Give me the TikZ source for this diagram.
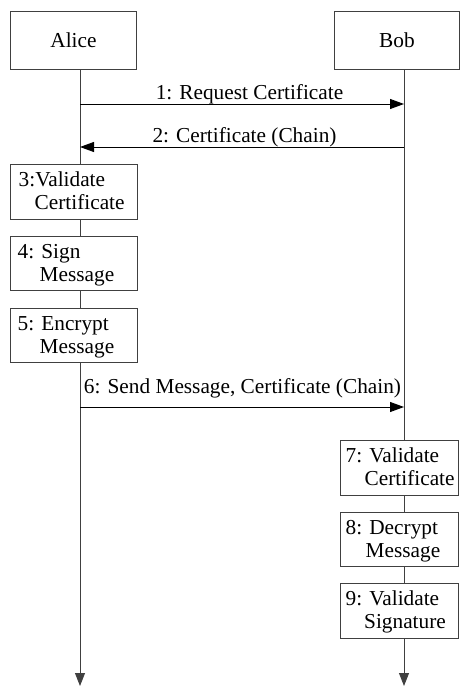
\documentclass[tikz,border=0pt]{standalone}
\usepackage{fontspec}
\setmainfont{Liberation Serif}
\usetikzlibrary{arrows.meta,calc}
\begin{document}
\begin{tikzpicture}[x=1pt,y=-1pt,
  font=\fontsize{21.3}{24}\selectfont,
  actor/.style={draw=black!75, line width=0.9pt, fill=white, rectangle,
    inner sep=0pt, anchor=north west, minimum height=58pt},
  act/.style={draw=black!75, line width=0.9pt, fill=white, rectangle,
    inner sep=0pt, anchor=north west},
  life/.style={draw=black!75, line width=0.9pt,
    -{Triangle[length=13pt,width=10pt]}},
  msg/.style={draw=black, line width=0.9pt,
    -{Triangle[length=14pt,width=10pt]}},
  txt/.style={inner sep=0pt, anchor=base west},
  lbl/.style={inner sep=0pt, anchor=base}]
\useasboundingbox (0,0) rectangle (460,687);

% participants
\node[actor, minimum width=126pt] (alice) at (10,11) {Alice};
\node[actor, minimum width=125pt] (bob) at (334,11) {Bob};

% lifelines
\coordinate (aend) at (80,686);
\coordinate (bend) at (404,686);
\draw[life] (alice.south -| aend) -- (aend);
\draw[life] (bob.south -| bend) -- (bend);

% messages
\coordinate (a1) at (80,104);  \coordinate (b1) at (404,104);
\coordinate (a2) at (80,147);  \coordinate (b2) at (404,147);
\coordinate (a6) at (80,407);  \coordinate (b6) at (404,407);
\draw[msg] (a1) -- (b1);
\node[lbl] (m1) at (249.5,100) {1: Request Certificate};
\draw[msg] (b2) -- (a2);
\node[lbl] (m2) at (244.5,142.5) {2: Certificate (Chain)};
\draw[msg] (a6) -- (b6);
\node[lbl] (m6) at (242.5,393) {6: Send Message, Certificate (Chain)};

% Alice's activities
\node[act, minimum width=127pt, minimum height=55pt] (s3) at (10,164) {};
\node[txt] (s3a) at ($(s3.north west)+(8.5,22.5)$) {3:Validate};
\node[txt] (s3b) at ($(s3.north west)+(24.5,45.5)$) {Certificate};

\node[act, minimum width=127pt, minimum height=54pt] (s4) at (10,236) {};
\node[txt] (s4a) at ($(s4.north west)+(7.5,22.5)$) {4: Sign};
\node[txt] (s4b) at ($(s4.north west)+(29.5,45.5)$) {Message};

\node[act, minimum width=127pt, minimum height=54pt] (s5) at (10,308) {};
\node[txt] (s5a) at ($(s5.north west)+(7.5,22.5)$) {5: Encrypt};
\node[txt] (s5b) at ($(s5.north west)+(29.5,45.5)$) {Message};

% Bob's activities
\node[act, minimum width=118pt, minimum height=55pt] (s7) at (340,440) {};
\node[txt] (s7a) at ($(s7.north west)+(5.5,22.5)$) {7: Validate};
\node[txt] (s7b) at ($(s7.north west)+(24.5,45)$) {Certificate};

\node[act, minimum width=118pt, minimum height=54pt] (s8) at (340,512) {};
\node[txt] (s8a) at ($(s8.north west)+(5.5,22.5)$) {8: Decrypt};
\node[txt] (s8b) at ($(s8.north west)+(25.5,45)$) {Message};

\node[act, minimum width=118pt, minimum height=55pt] (s9) at (340,583) {};
\node[txt] (s9a) at ($(s9.north west)+(5.5,22.5)$) {9: Validate};
\node[txt] (s9b) at ($(s9.north west)+(24,45)$) {Signature};
\end{tikzpicture}
\end{document}
